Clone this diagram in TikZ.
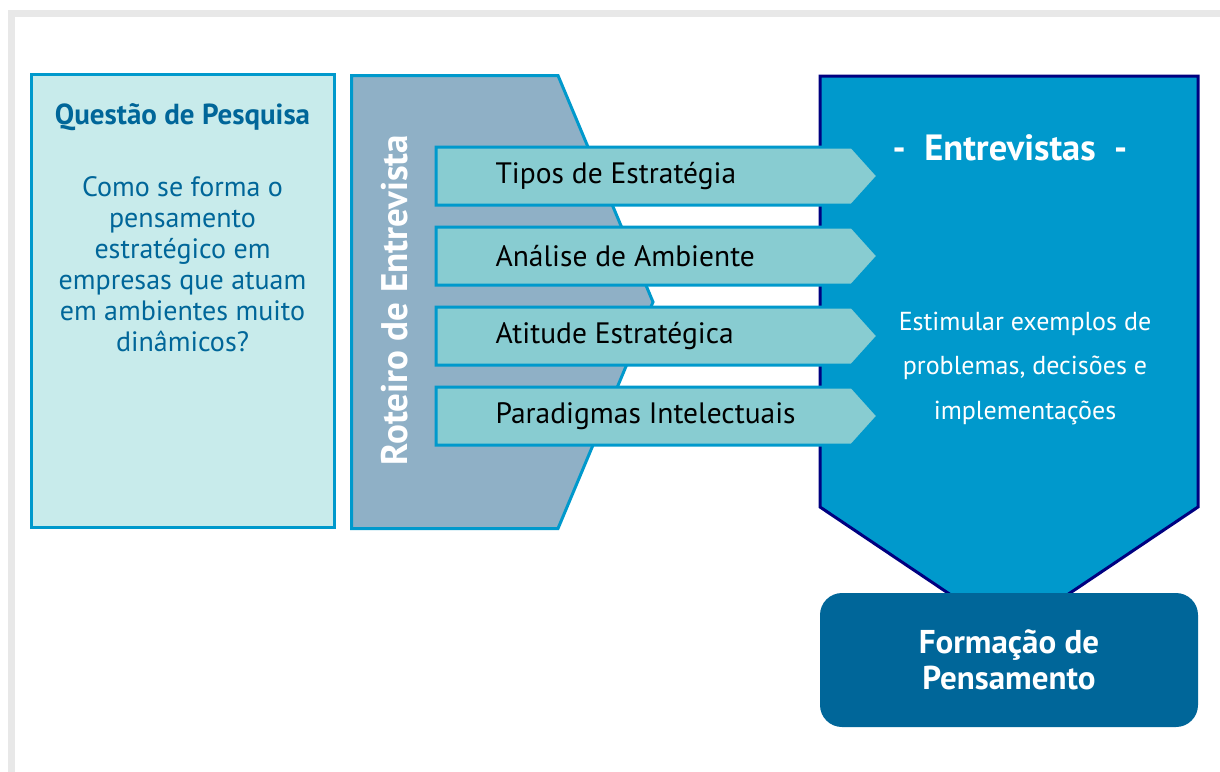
\documentclass[tikz,border=0pt]{standalone}
\usepackage{fontspec}
\setmainfont{PT Sans}
\usetikzlibrary{shapes.symbols,positioning}

\definecolor{framegrey}{HTML}{E8E8E8}
\definecolor{qfill}{HTML}{C8EBEB}
\definecolor{cyanline}{HTML}{0099CC}
\definecolor{deepblue}{HTML}{006699}
\definecolor{roteirofill}{HTML}{8FB0C6}
\definecolor{topicfill}{HTML}{88CCD1}
\definecolor{navy}{HTML}{000080}

\begin{document}
\begin{tikzpicture}[
    x=1pt,y=-1pt,
    topic/.style={signal,signal to=east,signal pointer angle=96,draw=cyanline,
        fill=topicfill,line width=3pt,minimum width=442pt,minimum height=58pt,
        inner sep=0pt},
    topictext/.style={anchor=west,font=\fontsize{29.5}{34}\selectfont,text=black},
    white text/.style={text=white,align=center},
    >=latex
]
    \clip (0,0) rectangle (1220,771);
    \fill[white] (0,0) rectangle (1220,771);
    \draw[framegrey,line width=7pt] (11.5,13.5) rectangle (1240,800);

    % Questao de Pesquisa
    \node[draw=cyanline,fill=qfill,line width=3pt,minimum width=303pt,
        minimum height=453pt] (questao) at (182.5,300.5) {};
    \node[text=deepblue,font=\bfseries\fontsize{29}{34}\selectfont]
        (qtitle) at (182.5,117) {Questão de Pesquisa};
    \node[text=deepblue,align=center,font=\fontsize{28}{31}\selectfont]
        (qtext) at (182.5,264) {Como se forma o\\pensamento\\estratégico em\\
        empresas que atuam\\em ambientes muito\\dinâmicos?};

    % Roteiro de Entrevista
    \draw[cyanline,fill=roteirofill,line width=3pt]
        (351.5,75.5) -- (558,75.5) -- (653,302) -- (558,528.5)
        -- (351.5,528.5) -- cycle;
    \node[rotate=90,text=white,font=\bfseries\fontsize{37}{42}\selectfont]
        (roteiro) at (395,300) {Roteiro de Entrevista};

    % Entrevistas
    \draw[navy,fill=cyanline,line width=3pt]
        (820,76) -- (1198,76) -- (1198,507) -- (1009,634)
        -- (820,507) -- cycle;
    \node[white text,font=\bfseries\fontsize{36.5}{40}\selectfont]
        (entrevistas) at (1010,148) {-\ \ Entrevistas\ \ -};
    \node[white text,font=\fontsize{26}{44.5}\selectfont]
        (estimular) at (1025,368) {Estimular exemplos de\\problemas, decisões e\\
        implementações};

    % Topics
    \foreach \i/\t in {1/Tipos de Estratégia,2/Análise de Ambiente,
        3/Atitude Estratégica,4/Paradigmas Intelectuais}{
        \node[topic,anchor=west] (topic\i) at (434.5,96+80*\i) {};
        \node[topictext] (label\i) at (492,96+80*\i) {\t};
    }

    % Formacao de Pensamento
    \node[fill=deepblue,rounded corners=22pt,minimum width=378pt,
        minimum height=134pt,white text,
        font=\bfseries\fontsize{33}{36}\selectfont]
        (formacao) at (1009,660) {Formação de\\Pensamento};
\end{tikzpicture}
\end{document}
